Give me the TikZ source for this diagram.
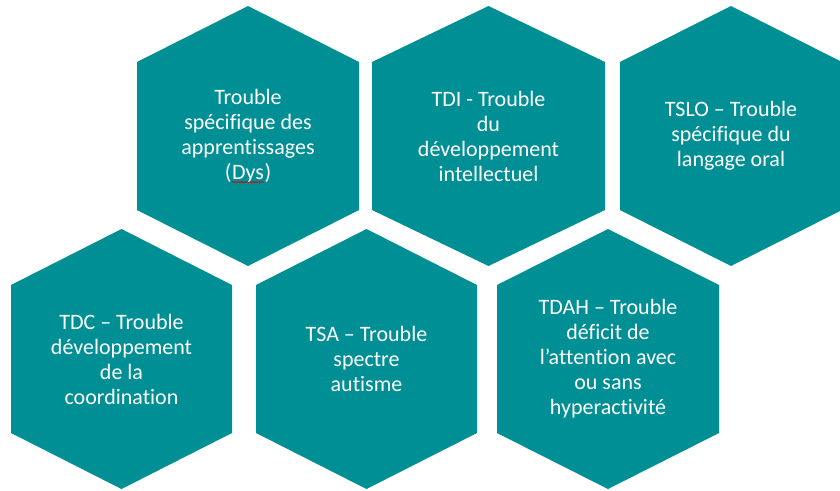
\documentclass[tikz,border=0pt]{standalone}
\usepackage{fontspec}
\setmainfont{Carlito}[Ligatures={NoCommon}]
\usetikzlibrary{decorations.pathmorphing}

\definecolor{hexteal}{RGB}{0,143,149}

\tikzset{
    pics/hexa/.style={code={\fill[hexteal] (0,-130) -- (#1,-74) -- (#1,74) -- (0,130) -- (-#1,74) -- (-#1,-74) -- cycle;}},
    pics/hexa/.default=111,
    hexlabel/.style={text=white, align=center, inner sep=0pt, font=\fontsize{16.5pt}{18.75pt}\selectfont}
}

% red spell-check squiggle under a word
\newcommand{\squig}[1]{\tikz[baseline=(w.base)]{\node[inner sep=0pt] (w) {#1};
    \draw[red!85!black, line width=0.5pt, decorate, decoration={snake, amplitude=0.5pt, segment length=2.2pt}] ([yshift=-2.2pt]w.base west) -- ([yshift=-2.2pt]w.base east);}}

\begin{document}
\begin{tikzpicture}[x=0.75pt, y=-0.75pt]

    \fill[white] (0,0) rectangle (840,490);
    \clip (0,0) rectangle (840,490);

    % top row
    \pic at (248,136) {hexa};
    \node [hexlabel] (dys) at (248,136) {Trouble\\spécifique des\\apprentissages\\(\squig{Dys})};

    \pic at (488.5,136) {hexa=116.5};
    \node [hexlabel] (tdi) at (488.5,136) {TDI - Trouble\\du\\développement\\intellectuel};

    \pic at (731,136) {hexa};
    \node [hexlabel] (tslo) at (731,136) {TSLO – Trouble\\spécifique du\\langage oral};

    % bottom row
    \pic at (121.5,359) {hexa=110.5};
    \node [hexlabel] (tdc) at (121.5,359) {TDC – Trouble\\développement\\de la\\coordination};

    \pic at (366.5,359) {hexa=110.5};
    \node [hexlabel] (tsa) at (366.5,359) {TSA – Trouble\\spectre\\autisme};

    \pic at (608,359) {hexa};
    \node [hexlabel] (tdah) at (608,359) {TDAH – Trouble\\déficit de\\l’attention avec\\ou sans\\hyperactivité};

\end{tikzpicture}
\end{document}
